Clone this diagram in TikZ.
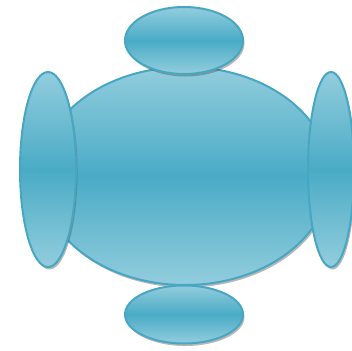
\documentclass[tikz,border=0pt]{standalone}
\usepackage{tikz}
\usetikzlibrary{shapes.geometric,shadows}
\definecolor{rim}{HTML}{48A6C2}
\definecolor{glow}{HTML}{92CDDD}
\definecolor{core}{HTML}{4AABC6}

\begin{document}
\begin{tikzpicture}[x=1pt,y=-1pt,
  part/.style={ellipse,inner sep=0pt,draw=rim,line width=2pt,
    top color=glow,bottom color=glow,middle color=core,
    drop shadow={shadow xshift=1.5pt,shadow yshift=-2.5pt,opacity=0.4,fill=black!70}},
]
  \useasboundingbox (0,0) rectangle (352,350);
  % table
  \node[part,minimum width=290pt,minimum height=218pt] (tbl) at (185,176) {};
  % chairs
  \node[part,minimum width=118pt,minimum height=67pt] (ctop) at (184,40.5) {};
  \node[part,minimum width=118pt,minimum height=58pt] (cbot) at (184,314.5) {};
  \node[part,minimum width=56pt,minimum height=195pt] (cleft) at (48,169.5) {};
  \node[part,minimum width=46pt,minimum height=195pt] (cright) at (331,169.5) {};
\end{tikzpicture}
\end{document}
